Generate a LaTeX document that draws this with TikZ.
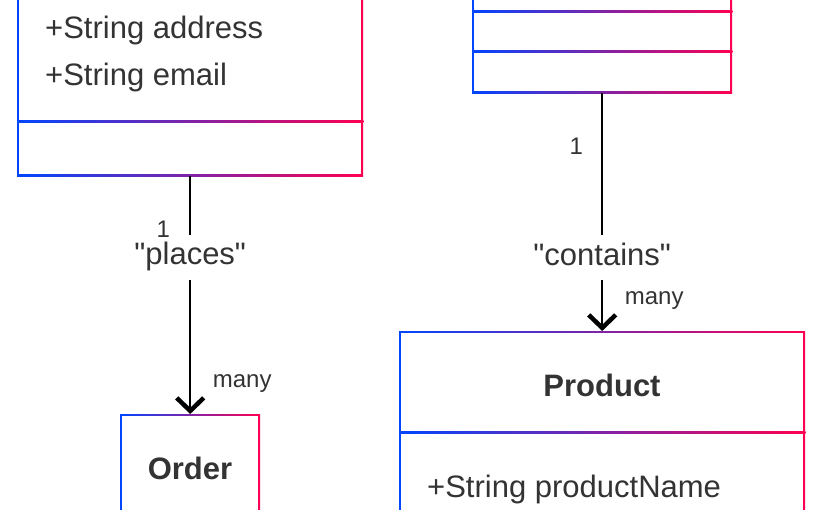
\documentclass[tikz,border=0pt]{standalone}
\usepackage{fontspec}
\setmainfont{Liberation Sans}
\usepackage{tikz}
\usetikzlibrary{arrows.meta,positioning}
\definecolor{gblue}{RGB}{0,70,255}
\definecolor{gred}{RGB}{255,0,80}
\definecolor{ink}{RGB}{51,51,51}
\tikzstyle{umlbox}=[rectangle, inner sep=0pt, anchor=north west, path picture={
  \shade[left color=gblue, right color=gred] (path picture bounding box.south west) rectangle (path picture bounding box.north east);
  \fill[white] ([shift={(2pt,2pt)}]path picture bounding box.south west) rectangle ([shift={(-2pt,-2pt)}]path picture bounding box.north east);}]
\tikzstyle{divider}=[left color=gblue, right color=gred]
\tikzstyle{attr}=[inner sep=0pt, anchor=base west, text=ink, font=\fontsize{31}{36}\selectfont]
\tikzstyle{cname}=[inner sep=0pt, anchor=base, text=ink, font=\fontsize{31}{36}\selectfont\bfseries]
\tikzstyle{lbl}=[fill=white, inner xsep=1pt, inner ysep=0pt, text height=22pt, text depth=6.5pt, minimum height=45pt, text=ink, font=\fontsize{31}{36}\selectfont]
\tikzstyle{mult}=[inner sep=0pt, text=ink, font=\fontsize{24}{28}\selectfont]
\tikzstyle{assoc}=[draw=black, line width=2pt, -{Straight Barb[length=13pt,width=27pt,line width=4.5pt 0 1]}]
\begin{document}
\begin{tikzpicture}
 [x=1pt, y=-1pt]
 \useasboundingbox (0,0) rectangle (825,510);
 \clip (0,0) rectangle (825,510);
 \node[umlbox, minimum width=346, minimum height=256] (custbox) at (17,-80) {};
 \node[umlbox, minimum width=260, minimum height=153] (cartbox) at (472,-60) {};
 \node[umlbox, minimum width=140, minimum height=146] (order) at (120,414) {};
 \node[umlbox, minimum width=406, minimum height=229] (product) at (399,331) {};
 \shade[divider] (custbox.west |- 0,121) rectangle (custbox.east |- 0,123);
 \shade[divider] (cartbox.west |- 0,11) rectangle (cartbox.east |- 0,13);
 \shade[divider] (cartbox.west |- 0,51) rectangle (cartbox.east |- 0,53);
 \shade[divider] (product.west |- 0,432) rectangle (product.east |- 0,434);
 \node[attr] (address) at (45,39) {+String address};
 \node[attr] (email) at (45,86) {+String email};
 \node[cname] (ordername) at (190,480) {Order};
 \node[cname] (prodname) at (602,397) {Product};
 \node[attr] (prodattr) at (427,497) {+String productName};
 \path[assoc]
   (custbox.south) -- (order.north)
     node[lbl, pos=0.34] (places) {\textquotedbl places\textquotedbl}
     node[mult, pos=0.222, xshift=-27pt] (placesone) {1}
     node[mult, pos=0.872, xshift=52pt] (placesmany) {many};
 \path[assoc]
   (cartbox.south) -- (product.north)
     node[lbl, pos=0.69] (contains) {\textquotedbl contains\textquotedbl}
     node[mult, pos=0.222, xshift=-26pt] (containsone) {1}
     node[mult, pos=0.872, xshift=52pt] (containsmany) {many};
\end{tikzpicture}
\end{document}
